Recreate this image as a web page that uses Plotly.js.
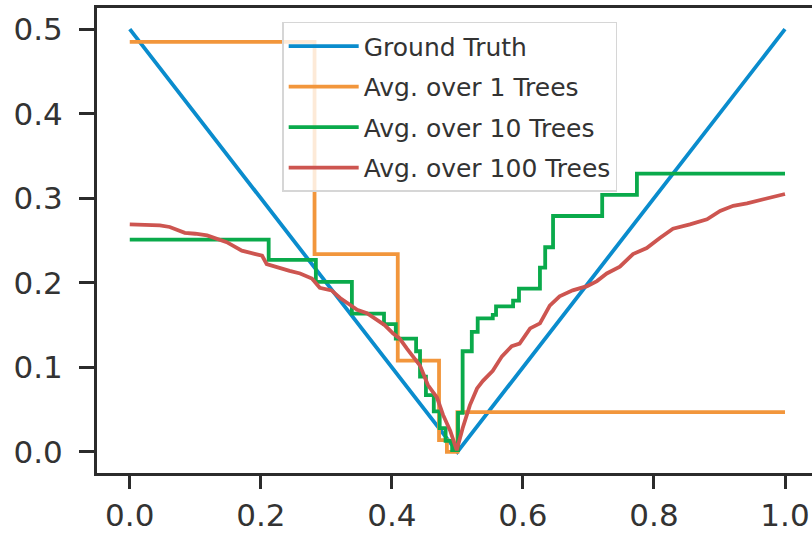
<!DOCTYPE html>
<html>
<head>
<meta charset="utf-8">
<script src="https://cdn.plot.ly/plotly-3.0.1.min.js"></script>
<style>html,body{margin:0;padding:0;background:#fff;}#chart{width:812px;height:535px;}</style>
</head>
<body>
<div id="chart"></div>
<script>
// ---- data ----
const seriesNames = ["Ground Truth", "Avg. over 1 Trees", "Avg. over 10 Trees", "Avg. over 100 Trees"];

const truthX = [0, 0.5, 1.0];
const truthY = [0.5, 0.0, 0.5];

const tree1X = [0, 0.282, 0.409, 0.472, 0.484, 0.500, 1.0];
const tree1Y = [0.485, 0.234, 0.108, 0.014, 0.0, 0.047, 0.047];

const tree10X = [0, 0.212, 0.284, 0.339, 0.388, 0.406, 0.437, 0.443, 0.452, 0.464, 0.473, 0.482, 0.492, 0.501, 0.508, 0.522, 0.531, 0.554, 0.559, 0.585, 0.594, 0.626, 0.634, 0.646, 0.721, 0.774, 1.0];
const tree10Y = [0.251, 0.227, 0.201, 0.1635, 0.151, 0.134, 0.119, 0.089, 0.067, 0.048, 0.028, 0.013, 0.002, 0.046, 0.119, 0.142, 0.158, 0.162, 0.172, 0.179, 0.193, 0.218, 0.242, 0.279, 0.304, 0.329, 0.329];

const tree100X = [0, 0.023, 0.046, 0.061, 0.084, 0.100, 0.118, 0.148, 0.171, 0.202, 0.209, 0.244, 0.260, 0.278, 0.290, 0.308, 0.321, 0.336, 0.347, 0.362, 0.377, 0.389, 0.402, 0.412, 0.423, 0.443, 0.455, 0.469, 0.478, 0.489, 0.499, 0.508, 0.519, 0.530, 0.539, 0.554, 0.568, 0.583, 0.595, 0.611, 0.626, 0.641, 0.656, 0.676, 0.698, 0.713, 0.728, 0.748, 0.768, 0.789, 0.809, 0.829, 0.855, 0.881, 0.901, 0.921, 0.942, 0.962, 0.982, 1.0];
const tree100Y = [0.269, 0.269, 0.268, 0.266, 0.259, 0.258, 0.256, 0.248, 0.238, 0.232, 0.222, 0.214, 0.211, 0.205, 0.194, 0.191, 0.182, 0.174, 0.168, 0.164, 0.156, 0.150, 0.140, 0.134, 0.122, 0.102, 0.079, 0.064, 0.044, 0.025, 0.002, 0.028, 0.055, 0.075, 0.084, 0.096, 0.113, 0.125, 0.128, 0.146, 0.152, 0.173, 0.184, 0.191, 0.196, 0.202, 0.211, 0.219, 0.234, 0.241, 0.253, 0.264, 0.269, 0.275, 0.285, 0.291, 0.294, 0.298, 0.302, 0.305];

const xTickVals = [0, 0.2, 0.4, 0.6, 0.8, 1.0];
const xTickText = ["0.0", "0.2", "0.4", "0.6", "0.8", "1.0"];
const yTickVals = [0, 0.1, 0.2, 0.3, 0.4, 0.5];
const yTickText = ["0.0", "0.1", "0.2", "0.3", "0.4", "0.5"];

// ---- styles ----
const colors = ["#0a8ccd", "#f2963c", "#0aaa4b", "#cd5550"];
const lw = 3.8;

const traces = [
  {x: truthX, y: truthY, name: seriesNames[0], mode: "lines", line: {color: colors[0], width: lw}, legendgroup: "a"},
  {x: tree1X, y: tree1Y, name: seriesNames[1], mode: "lines", line: {color: colors[1], width: lw, shape: "hv"}, legendgroup: "b"},
  {x: tree10X, y: tree10Y, name: seriesNames[2], mode: "lines", line: {color: colors[2], width: lw, shape: "hv"}, legendgroup: "c"},
  {x: tree100X, y: tree100Y, name: seriesNames[3], mode: "lines", line: {color: colors[3], width: lw}, legendgroup: "d"}
];

const axisCommon = {
  showgrid: false, zeroline: false,
  showline: true, linecolor: "#2b2b2b", linewidth: 3,
  ticks: "outside", tickwidth: 3, tickcolor: "#2b2b2b",
  tickfont: {family: "DejaVu Sans", size: 31, color: "#333"}
};

const layout = {
  width: 812, height: 535,
  margin: {l: 97, r: 0, t: 8, b: 62, pad: 0},
  paper_bgcolor: "#ffffff", plot_bgcolor: "#ffffff",
  showlegend: true,
  font: {family: "DejaVu Sans", color: "#333"},
  xaxis: Object.assign({}, axisCommon, {
    range: [-0.05, 1.0412], mirror: true, ticklen: 13,
    tickmode: "array", tickvals: xTickVals, ticktext: xTickText,
    ticklabelstandoff: 0
  }),
  yaxis: Object.assign({}, axisCommon, {
    range: [-0.025, 0.525], mirror: false, ticklen: 15,
    tickmode: "array", tickvals: yTickVals, ticktext: yTickText,
    ticklabelstandoff: 10
  }),
  legend: {
    x: 0.259, y: 0.97, xanchor: "left", yanchor: "top",
    bgcolor: "rgba(255,255,255,0.8)", bordercolor: "#d6d6d6", borderwidth: 1.5,
    font: {family: "DejaVu Sans", size: 25, color: "#333"},
    tracegroupgap: 5, traceorder: "grouped", itemwidth: 70
  }
};

Plotly.newPlot("chart", traces, layout, {staticPlot: true, displayModeBar: false});
</script>
</body>
</html>
